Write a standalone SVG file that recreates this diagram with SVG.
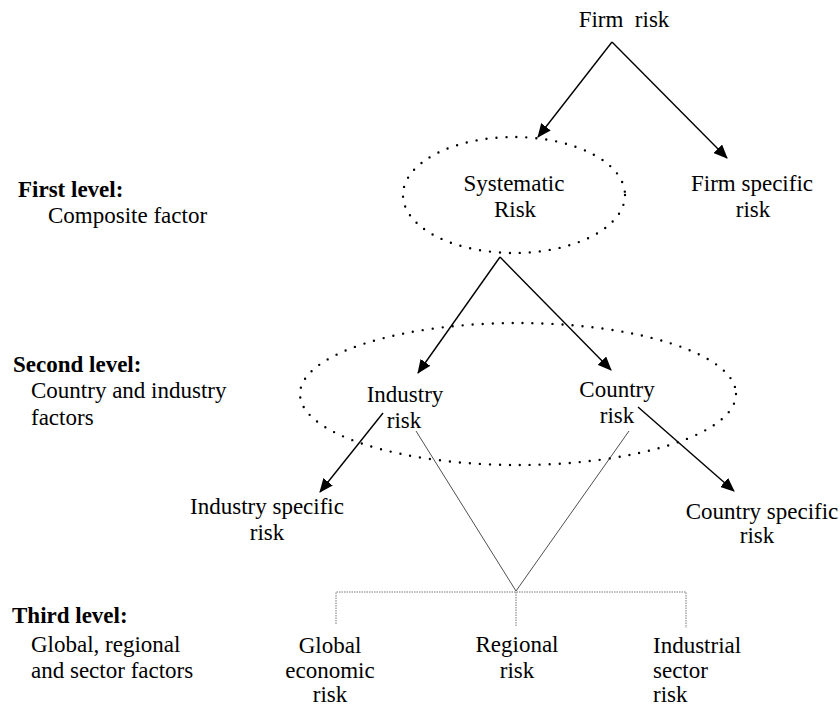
<svg xmlns="http://www.w3.org/2000/svg" width="840" height="708" viewBox="0 0 840 708">
<defs>
<marker id="arr" markerUnits="userSpaceOnUse" markerWidth="14" markerHeight="12" viewBox="0 0 14 12" refX="13" refY="6" orient="auto">
<path d="M0,0 L14,6 L0,12 Z" fill="#000"/>
</marker>
</defs>
<style>
text{font-family:'Liberation Serif','Times New Roman','DejaVu Serif',serif;font-size:23px;fill:#000}
.c{text-anchor:middle}
.b{font-weight:bold}
.arrow{stroke:#000;stroke-width:1.4;fill:none;marker-end:url(#arr)}
.thin{stroke:#222;stroke-width:0.8;fill:none}
.bracket{stroke:#777;stroke-width:1;stroke-dasharray:1.5 1;fill:none}
.dots{stroke:#000;stroke-width:2.4;stroke-linecap:round;stroke-dasharray:0 10;fill:none}
</style>
<rect width="840" height="708" fill="#fff"/>
<g id="connectors">
<line class="arrow" x1="612" y1="42" x2="538" y2="137"/>
<line class="arrow" x1="612" y1="42" x2="727" y2="158"/>
<line class="arrow" x1="500" y1="257" x2="418" y2="373"/>
<line class="arrow" x1="500" y1="257" x2="611" y2="370"/>
<line class="arrow" x1="383" y1="413" x2="320" y2="492"/>
<line class="arrow" x1="638" y1="407" x2="734" y2="491"/>
<line class="thin" x1="416" y1="431" x2="516" y2="591"/>
<line class="thin" x1="629" y1="431" x2="516" y2="591"/>
<path class="bracket" d="M336,624 V592 H686 V628 M516,592 V627"/>
</g>
<g id="level-labels" font-family="Liberation Serif, serif">
<text class="b" x="18" y="197">First level:</text>
<text x="48" y="223">Composite factor</text>
<text class="b" x="13" y="372">Second level:</text>
<text x="31" y="398">Country and industry</text>
<text x="31" y="425">factors</text>
<text class="b" x="12" y="623">Third level:</text>
<text x="31" y="652">Global, regional</text>
<text x="31" y="678">and sector factors</text>
</g>
<g id="firm-risk"><text class="c" x="624" y="27" xml:space="preserve">Firm  risk</text></g>
<g id="systematic-risk">
<ellipse class="dots" cx="514" cy="195" rx="111" ry="58"/>
<text class="c" x="514" y="191">Systematic</text>
<text class="c" x="515" y="217">Risk</text>
</g>
<g id="firm-specific-risk">
<text class="c" x="752" y="191">Firm specific</text>
<text class="c" x="753" y="217">risk</text>
</g>
<g id="second-level-group"><ellipse class="dots" cx="518" cy="394" rx="218" ry="71"/></g>
<g id="industry-risk">
<text class="c" x="405" y="402">Industry</text>
<text class="c" x="404" y="428">risk</text>
</g>
<g id="country-risk">
<text class="c" x="617" y="397">Country</text>
<text class="c" x="617" y="423">risk</text>
</g>
<g id="industry-specific-risk">
<text class="c" x="267" y="514">Industry specific</text>
<text class="c" x="267" y="540">risk</text>
</g>
<g id="country-specific-risk">
<text class="c" x="762" y="519">Country specific</text>
<text class="c" x="757" y="543">risk</text>
</g>
<g id="global-economic-risk">
<text class="c" x="330" y="653">Global</text>
<text class="c" x="330" y="678">economic</text>
<text class="c" x="330" y="702">risk</text>
</g>
<g id="regional-risk">
<text class="c" x="517" y="652">Regional</text>
<text class="c" x="517" y="678">risk</text>
</g>
<g id="industrial-sector-risk">
<text x="653" y="653">Industrial</text>
<text x="653" y="678">sector</text>
<text x="653" y="702">risk</text>
</g>
</svg>
